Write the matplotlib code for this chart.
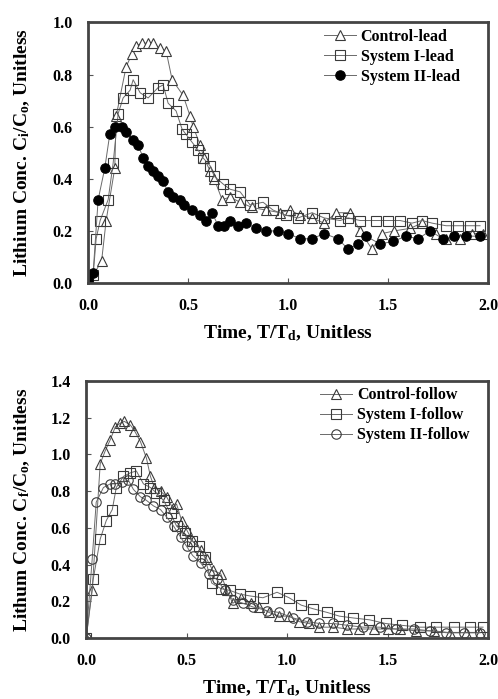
import numpy as np
import matplotlib.pyplot as plt

plt.rcParams['font.family'] = ['Liberation Serif', 'DejaVu Serif']
plt.rcParams['font.weight'] = 'bold'
plt.rcParams['mathtext.fontset'] = 'custom'
plt.rcParams['mathtext.rm'] = 'Liberation Serif:bold'
plt.rcParams['mathtext.it'] = 'Liberation Serif:italic:bold'

# ---- lead (top panel) ----
ctrl_lead_t = [0.0, 0.067, 0.09, 0.133, 0.14, 0.19, 0.22, 0.24, 0.27, 0.30, 0.325, 0.36, 0.39,
               0.42, 0.475, 0.51, 0.525, 0.56, 0.58, 0.61, 0.63, 0.67, 0.71, 0.76, 0.82, 0.89,
               0.96, 1.01, 1.06, 1.12, 1.18, 1.24, 1.31, 1.36, 1.42, 1.47, 1.53, 1.61, 1.67,
               1.74, 1.79, 1.86, 1.92, 1.975]
ctrl_lead_c = [0.0, 0.083, 0.24, 0.44, 0.64, 0.83, 0.88, 0.91, 0.92, 0.92, 0.92, 0.90, 0.89,
               0.78, 0.72, 0.64, 0.60, 0.53, 0.48, 0.43, 0.40, 0.32, 0.33, 0.31, 0.29, 0.28,
               0.27, 0.28, 0.26, 0.25, 0.23, 0.27, 0.27, 0.20, 0.13, 0.19, 0.20, 0.21, 0.23,
               0.19, 0.17, 0.17, 0.19, 0.19]

sys1_lead_t = [0.0, 0.025, 0.04, 0.06, 0.10, 0.125, 0.15, 0.175, 0.21, 0.225, 0.26, 0.30, 0.35,
               0.375, 0.40, 0.44, 0.47, 0.49, 0.52, 0.55, 0.575, 0.61, 0.63, 0.675, 0.71, 0.76,
               0.81, 0.875, 0.925, 0.99, 1.05, 1.12, 1.18, 1.26, 1.30, 1.36, 1.44, 1.50, 1.56,
               1.62, 1.67, 1.72, 1.79, 1.85, 1.91, 1.96]
sys1_lead_c = [0.0, 0.03, 0.17, 0.24, 0.32, 0.46, 0.65, 0.71, 0.74, 0.78, 0.73, 0.71, 0.75,
               0.76, 0.69, 0.66, 0.59, 0.57, 0.54, 0.51, 0.48, 0.45, 0.41, 0.38, 0.36, 0.35,
               0.30, 0.31, 0.28, 0.26, 0.25, 0.27, 0.25, 0.24, 0.25, 0.24, 0.24, 0.24, 0.24,
               0.23, 0.24, 0.23, 0.22, 0.22, 0.22, 0.22]

sys2_lead_t = [0.0, 0.025, 0.05, 0.083, 0.108, 0.133, 0.167, 0.19, 0.225, 0.25, 0.275, 0.30,
               0.325, 0.35, 0.375, 0.40, 0.425, 0.46, 0.48, 0.52, 0.56, 0.59, 0.62, 0.65, 0.68,
               0.71, 0.75, 0.79, 0.84, 0.89, 0.95, 1.0, 1.06, 1.12, 1.18, 1.25, 1.30, 1.35,
               1.39, 1.46, 1.525, 1.59, 1.65, 1.71, 1.775, 1.83, 1.89, 1.96]
sys2_lead_c = [0.01, 0.04, 0.32, 0.44, 0.57, 0.60, 0.60, 0.58, 0.55, 0.53, 0.48, 0.45,
               0.43, 0.41, 0.39, 0.35, 0.33, 0.32, 0.30, 0.28, 0.26, 0.24, 0.27, 0.22, 0.22,
               0.24, 0.22, 0.23, 0.21, 0.20, 0.20, 0.19, 0.17, 0.17, 0.19, 0.17, 0.13, 0.15,
               0.18, 0.15, 0.16, 0.18, 0.17, 0.20, 0.17, 0.18, 0.18, 0.18]

# ---- follow (bottom panel) ----
ctrl_fol_t = [0.0, 0.03, 0.07, 0.095, 0.12, 0.145, 0.17, 0.19, 0.22, 0.24, 0.27, 0.30, 0.32,
              0.34, 0.37, 0.40, 0.43, 0.45, 0.475, 0.50, 0.53, 0.57, 0.60, 0.63, 0.67, 0.70,
              0.73, 0.77, 0.82, 0.86, 0.91, 0.96, 1.01, 1.06, 1.11, 1.16, 1.23, 1.30, 1.36,
              1.43, 1.50, 1.56, 1.64, 1.73, 1.81, 1.89, 1.96]
ctrl_fol_c = [0.0, 0.26, 0.95, 1.02, 1.08, 1.15, 1.17, 1.18, 1.16, 1.13, 1.07, 0.98, 0.88,
              0.82, 0.80, 0.77, 0.71, 0.73, 0.64, 0.59, 0.53, 0.48, 0.43, 0.37, 0.35, 0.26,
              0.19, 0.22, 0.19, 0.17, 0.14, 0.12, 0.12, 0.09, 0.08, 0.06, 0.06, 0.05, 0.05,
              0.05, 0.05, 0.05, 0.04, 0.04, 0.03, 0.03, 0.03]

sys1_fol_t = [0.0, 0.035, 0.07, 0.10, 0.13, 0.15, 0.185, 0.22, 0.25, 0.285, 0.32, 0.35, 0.385,
              0.42, 0.45, 0.49, 0.525, 0.56, 0.59, 0.625, 0.67, 0.715, 0.765, 0.815, 0.88,
              0.95, 1.01, 1.07, 1.13, 1.20, 1.26, 1.33, 1.41, 1.49, 1.57, 1.66, 1.74, 1.83,
              1.91, 1.975]
sys1_fol_c = [0.0, 0.32, 0.54, 0.64, 0.70, 0.82, 0.88, 0.90, 0.91, 0.84, 0.82, 0.79, 0.75,
              0.68, 0.61, 0.57, 0.53, 0.50, 0.44, 0.30, 0.27, 0.26, 0.24, 0.23, 0.22,
              0.25, 0.22, 0.18, 0.16, 0.14, 0.12, 0.11, 0.10, 0.08, 0.07, 0.06, 0.06, 0.06,
              0.06, 0.06]

sys2_fol_t = [0.0, 0.03, 0.05, 0.086, 0.12, 0.145, 0.18, 0.21, 0.235, 0.27, 0.30, 0.335, 0.37,
              0.40, 0.435, 0.47, 0.50, 0.53, 0.57, 0.61, 0.65, 0.69, 0.73, 0.78, 0.83, 0.90,
              0.96, 1.03, 1.10, 1.16, 1.23, 1.30, 1.38, 1.46, 1.54, 1.63, 1.71, 1.79, 1.88,
              1.96]
sys2_fol_c = [0.0, 0.43, 0.74, 0.82, 0.84, 0.84, 0.85, 0.86, 0.81, 0.77, 0.75, 0.72, 0.70,
              0.66, 0.61, 0.55, 0.50, 0.45, 0.41, 0.35, 0.32, 0.26, 0.21, 0.19, 0.17, 0.15,
              0.14, 0.11, 0.09, 0.08, 0.08, 0.07, 0.06, 0.06, 0.05, 0.05, 0.04, 0.03, 0.03,
              0.03]

x_ticks = [0.0, 0.5, 1.0, 1.5, 2.0]

LINE = '#6a6a6a'
EDGE = '#3a3a3a'
TICK_FS = 11.5
LABEL_FS = 14
LEG_FS = 11.5


def style_axes(ax, ymax, ylabel, ylab_x, xlab_y, leg_anchor):
    ax.set_xlim(0, 2.0)
    ax.set_ylim(0, ymax)
    ax.set_xticks(x_ticks)
    ax.set_yticks(np.arange(0, ymax + 1e-9, 0.2))
    ax.xaxis.set_major_formatter(plt.FormatStrFormatter('%.1f'))
    ax.yaxis.set_major_formatter(plt.FormatStrFormatter('%.1f'))
    ax.tick_params(direction='in', length=3.5, width=0.8, color='#555555',
                   labelsize=TICK_FS)
    ax.tick_params(axis='y', pad=11)
    ax.tick_params(axis='x', pad=11)
    for s in ax.spines.values():
        s.set_linewidth(2.0)
        s.set_color('#444444')
    ax.set_xlabel(r'Time, T/T$_{\rm d}$, Unitless', fontsize=LABEL_FS, fontweight='bold')
    ax.set_ylabel(ylabel, fontsize=LABEL_FS, fontweight='bold')
    ax.xaxis.set_label_coords(0.5, xlab_y)
    ax.yaxis.set_label_coords(ylab_x, 0.5)
    ax.legend(loc='upper right', bbox_to_anchor=leg_anchor, frameon=False,
              fontsize=LEG_FS, handlelength=2.0, handletextpad=0.3,
              labelspacing=0.25, borderaxespad=0.0)


fig = plt.figure(figsize=(4.98, 6.99), dpi=100)
ax1 = fig.add_axes([0.177, 0.595, 0.803, 0.373])
ax2 = fig.add_axes([0.173, 0.087, 0.807, 0.368])

mk = dict(markersize=6.8, markeredgewidth=0.8, linewidth=0.7, color=LINE)
ax1.plot(ctrl_lead_t, ctrl_lead_c, marker='^', mfc='white', mec=EDGE, label='Control-lead', **mk)
ax1.plot(sys1_lead_t, sys1_lead_c, marker='s', mfc='none', mec=EDGE, label='System I-lead', **mk)
ax1.plot(sys2_lead_t, sys2_lead_c, marker='o', mfc='black', mec='black', label='System II-lead', **mk)
style_axes(ax1, 1.0, r'Lithium Conc. C$_{\rm i}$/C$_{\rm o}$, Unitless',
           -0.14, -0.155, (0.945, 1.0))

ax2.plot(ctrl_fol_t, ctrl_fol_c, marker='^', mfc='none', mec=EDGE, label='Control-follow', **mk)
ax2.plot(sys1_fol_t, sys1_fol_c, marker='s', mfc='none', mec=EDGE, label='System I-follow', **mk)
ax2.plot(sys2_fol_t, sys2_fol_c, marker='o', mfc='none', mec=EDGE, label='System II-follow', **mk)
style_axes(ax2, 1.4, r'Lithum Conc. C$_{\rm f}$/C$_{\rm o}$, Unitless',
           -0.135, -0.155, (0.97, 1.0))

fig.savefig('out.png', dpi=100)
